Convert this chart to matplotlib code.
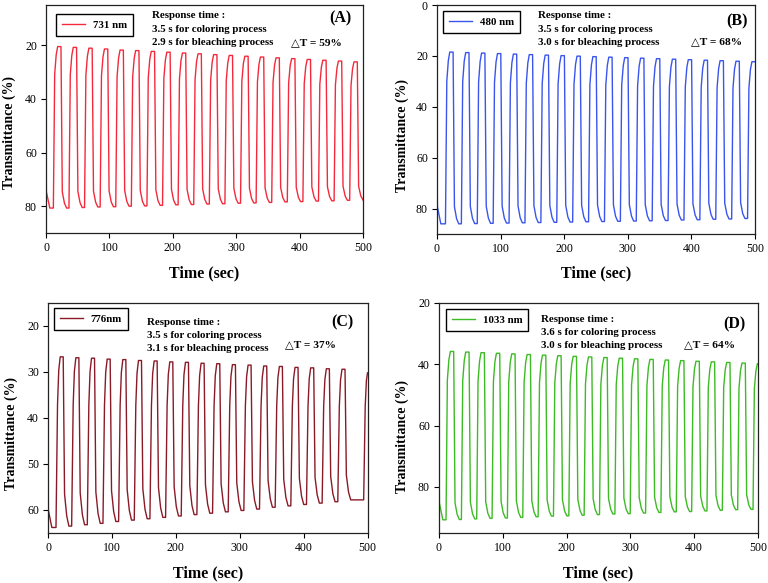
import matplotlib
matplotlib.use("Agg")
import matplotlib.pyplot as plt
import numpy as np

W, H = 768, 583
SERIF = ['Liberation Serif', 'DejaVu Serif']
SYM = ['Liberation Serif', 'DejaVu Sans']

# ---------------- data ----------------
# rise-start time of every cycle (s)
riseA = [11.6, 36.2, 60.8, 85.4, 110.0, 134.6, 159.2, 183.8, 208.4, 233.0,
         257.6, 282.2, 306.8, 331.4, 356.0, 380.6, 405.2, 429.8, 454.4, 479.0]
peakA = [20.5, 20.8, 21.1, 21.4, 21.8, 22.0, 22.3, 22.6, 22.9, 23.2,
         23.5, 23.8, 24.1, 24.4, 24.7, 25.0, 25.3, 25.6, 25.9, 26.2]
troughA = [80.7, 80.7, 80.5, 80.3, 80.2, 80.0, 79.9, 79.7, 79.5, 79.4,
           79.2, 79.1, 78.9, 78.8, 78.6, 78.4, 78.3, 78.1, 78.0, 77.8, 77.7]
startA = 52.0

riseB = [13.3, 38.3, 63.3, 88.3, 113.3, 138.3, 163.3, 188.3, 213.3, 238.3,
         263.3, 288.3, 313.3, 338.3, 363.3, 388.3, 413.3, 438.3, 463.3, 488.3]
peakB = [18.5, 18.7, 18.9, 19.1, 19.3, 19.5, 19.7, 19.9, 20.1, 20.3,
         20.5, 20.7, 20.9, 21.1, 21.3, 21.5, 21.7, 21.9, 22.1, 22.3]
troughB = [86.0, 86.0, 85.9, 85.8, 85.7, 85.6, 85.5, 85.4, 85.3, 85.2,
           85.1, 85.0, 84.9, 84.8, 84.7, 84.5, 84.4, 84.2, 84.1, 83.9, 83.8]
startB = 57.0

riseC = [12.5, 37.0, 61.5, 86.0, 110.5, 135.0, 159.5, 184.0, 208.5, 233.0,
         257.5, 282.0, 306.5, 331.0, 355.5, 380.0, 404.5, 429.0, 453.5, 494.0]
peakC = [26.7, 26.9, 27.0, 27.2, 27.3, 27.5, 27.6, 27.8, 27.9, 28.1,
         28.2, 28.4, 28.5, 28.7, 28.8, 29.0, 29.1, 29.3, 29.4, 29.6]
troughC = [63.8, 63.5, 63.2, 62.9, 62.5, 62.2, 61.9, 61.6, 61.3, 61.0,
           60.7, 60.4, 60.1, 59.8, 59.4, 59.1, 58.8, 58.5, 58.2, 57.8, 57.6]
startC = 45.0

riseD = [11.0, 35.1, 59.1, 83.2, 107.2, 131.3, 155.4, 179.4, 203.5, 227.5,
         251.6, 275.7, 299.7, 323.8, 347.8, 371.9, 396.0, 420.0, 444.1, 468.1, 492.2]
peakD = [35.8, 36.0, 36.2, 36.4, 36.6, 36.8, 37.0, 37.2, 37.4, 37.6,
         37.8, 38.0, 38.2, 38.4, 38.6, 38.8, 39.0, 39.2, 39.4, 39.6, 39.8]
troughD = [90.7, 90.6, 90.4, 90.2, 90.1, 89.9, 89.7, 89.5, 89.4, 89.2,
           89.0, 88.8, 88.7, 88.5, 88.3, 88.1, 88.0, 87.8, 87.6, 87.4, 87.3, 87.2]
startD = 62.0

labels = ['731 nm', '480 nm', '776nm', '1033 nm']
panel_ids = ['(A)', '(B)', '(C)', '(D)']
coloring = ['3.5 s for coloring process', '3.5 s for coloring process',
            '3.5 s for coloring process', '3.6 s for coloring process']
bleaching = ['2.9 s for bleaching process', '3.0 s for bleaching process',
             '3.1 s for bleaching process', '3.0 s for bleaching process']
deltaT = ['\u25b3T = 59%', '\u25b3T = 68%', '\u25b3T = 37%', '\u25b3T = 64%']
colors = ['#f42a3c', '#3a55ee', '#8a1a28', '#3cbb24']
ylims = [(90, 5), (90, 0), (65, 15), (95, 20)]
yticks = [[20, 40, 60, 80], [0, 20, 40, 60, 80], [20, 30, 40, 50, 60], [20, 40, 60, 80]]
xticks = [0, 100, 200, 300, 400, 500]

# cycle shape: (time offset after rise start, fraction of the way) -- rise then fall
shape_rise_std = [(2.1, 0.83), (4.5, 0.95), (6.8, 1.0)]
shape_fall_std = [(12.0, 0.0), (14.1, 0.90), (17.5, 0.97), (20.9, 1.0)]
shape_rise_C = [(2.4, 0.72), (4.3, 0.92), (6.6, 1.0)]
shape_fall_C = [(11.3, 0.0), (13.4, 0.81), (16.8, 0.94), (20.2, 1.0)]


def build(rise, peak, trough, start, srise, sfall, tmax=500.0):
    t = [0.0, 0.6]
    v = [start, trough[0] - 0.1 * (trough[0] - peak[0])]
    t.append(min(6.0, rise[0] - 4.0))
    v.append(trough[0])
    for i, r in enumerate(rise):
        lo, hi, nlo = trough[i], peak[i], trough[i + 1]
        t.append(r); v.append(lo)
        for dt, f in srise:
            t.append(r + dt); v.append(lo + f * (hi - lo))
        for dt, f in sfall:
            t.append(r + dt); v.append(hi + f * (nlo - hi))
    t = np.array(t); v = np.array(v)
    keep = t <= tmax
    tt = list(t[keep]); vv = list(v[keep])
    if tt[-1] < tmax:
        tt.append(tmax); vv.append(np.interp(tmax, t, v))
    return np.array(tt), np.array(vv)


series = [
    build(riseA, peakA, troughA, startA, shape_rise_std, shape_fall_std),
    build(riseB, peakB, troughB, startB, shape_rise_std, shape_fall_std),
    build(riseC, peakC, troughC, startC, shape_rise_C, shape_fall_C),
    build(riseD, peakD, troughD, startD, shape_rise_std, shape_fall_std),
]

# axes boxes in pixels: left, top, right, bottom
boxes = [(46, 5, 363, 233), (437, 5, 755, 234), (48, 303, 367.5, 533), (439, 303, 758, 533)]
legend_boxes = [(56, 14, 133, 40), (443, 11, 520, 36), (54, 308, 128, 334), (446, 309, 529, 335)]
resp_xy = [(152, 16), (538, 16), (147, 322.5), (541, 319.5)]
resp_dy = 13.2
dT_xy = [(291, 42.5), (691, 42), (285, 344.5), (684, 345)]
id_xy = [(351, 18.5), (748, 21), (353, 322.5), (745.5, 324)]
ylab_xy = [(9.5, 132.5), (402.5, 136), (11.5, 434), (402.5, 436.5)]
xlab_y = [273, 273.5, 573.5, 573.5]

fig = plt.figure(figsize=(W / 100, H / 100), dpi=100)


def fx(px):
    return px / W


def fy(py):
    return 1 - py / H


for k in range(4):
    l, tp, r, b = boxes[k]
    ax = fig.add_axes([fx(l), fy(b), fx(r) - fx(l), fy(tp) - fy(b)])
    tt, vv = series[k]
    ax.plot(tt, vv, color=colors[k], lw=1.0, label=labels[k])
    ax.set_xlim(0, 500)
    ax.set_ylim(*ylims[k])
    ax.set_xticks(xticks)
    ax.set_yticks(yticks[k])
    ax.tick_params(direction='out', length=3.5, width=0.8, labelsize=8.5, pad=3,
                   top=False, right=False)
    for lab in ax.get_xticklabels() + ax.get_yticklabels():
        lab.set_fontfamily(SERIF)
    for s in ax.spines.values():
        s.set_linewidth(0.9)
        s.set_color('#222222')
    ax.set_xlabel('Time (sec)', fontsize=11.5, fontweight='bold', family=SERIF, va='center')
    ax.set_ylabel('Transmittance (%)', fontsize=10, fontweight='bold', family=SERIF, va='center')
    ax.xaxis.set_label_coords(0.5, -(xlab_y[k] - b) / (b - tp))
    ax.yaxis.set_label_coords((ylab_xy[k][0] - l) / (r - l), 1 - (ylab_xy[k][1] - tp) / (b - tp))

    lb = legend_boxes[k]
    leg = ax.legend(loc='upper left', bbox_to_anchor=(fx(lb[0]), fy(lb[1])),
                    bbox_transform=fig.transFigure, frameon=True, fancybox=False,
                    edgecolor='black', framealpha=1, handlelength=2.1, handletextpad=0.75,
                    borderpad=0.55, borderaxespad=0,
                    prop={'family': SERIF, 'weight': 'bold', 'size': 7.8})
    leg.get_frame().set_linewidth(1.0)

    rx, ry = resp_xy[k]
    for j, txt in enumerate(['Response time :', coloring[k], bleaching[k]]):
        fig.text(fx(rx), fy(ry + j * resp_dy), txt, fontsize=7.8, fontweight='bold',
                 family=SERIF, ha='left', va='center')
    fig.text(fx(dT_xy[k][0]), fy(dT_xy[k][1]), deltaT[k], fontsize=8.2, fontweight='bold',
             family=SYM, ha='left', va='center')
    fig.text(fx(id_xy[k][0]), fy(id_xy[k][1]), panel_ids[k], fontsize=11.5, fontweight='bold',
             family=SERIF, ha='right', va='center')

fig.savefig('out.png', dpi=100)
